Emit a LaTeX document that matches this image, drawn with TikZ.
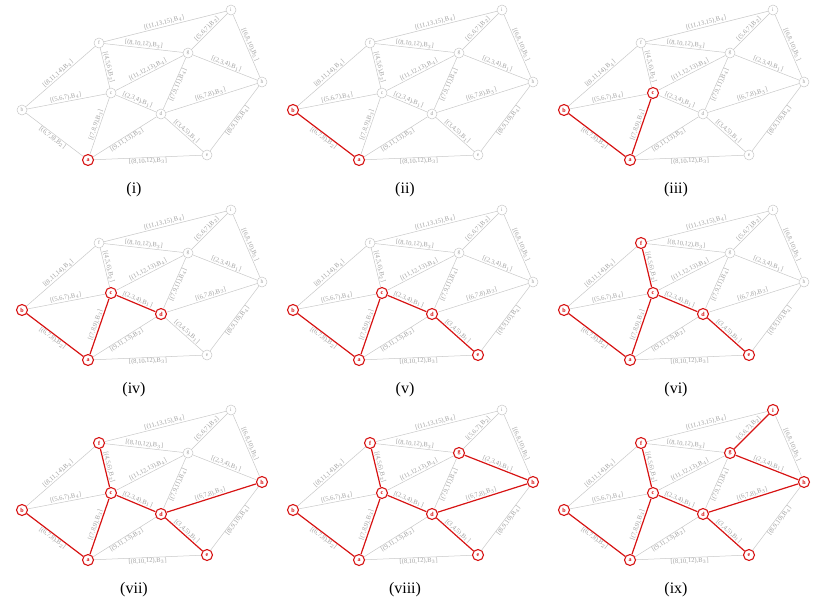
\documentclass[tikz,border=0pt]{standalone}
\usepackage{fontspec}
\setmainfont{Liberation Serif}
\usepackage{xcolor}
\definecolor{edgegrey}{RGB}{200,200,200}
\definecolor{labgrey}{RGB}{160,160,160}
\definecolor{hl}{RGB}{215,20,20}
\tikzset{
 gn/.style={circle,draw=edgegrey,line width=0.5pt,inner sep=0pt,minimum size=10pt,text=labgrey,font=\fontsize{5.5}{5.5}\selectfont,fill=white},
 rn/.style={circle,draw=hl,line width=1.1pt,inner sep=0pt,minimum size=11pt,text=hl,font=\fontsize{6}{6}\selectfont\bfseries,fill=white},
 ge/.style={draw=edgegrey,line width=0.5pt},
 re/.style={draw=hl,line width=1.2pt},
 lab/.style={text=labgrey,font=\fontsize{6.5}{7}\selectfont,inner sep=0.6pt,sloped},
 captext/.style={font=\fontsize{16}{16}\selectfont}
}
\newcommand\GN[4]{\ifnum#4>\stg\relax \node[gn] (#1\stg) at (#2,#3) {#1};\else \node[rn] (#1\stg) at (#2,#3) {#1};\fi}
\newcommand\GE[5]{\ifnum#5>\stg\relax \draw[ge] (#1\stg) -- node[lab,#4]{#3} (#2\stg);\else \draw[re] (#1\stg) -- node[lab,#4]{#3} (#2\stg);\fi}
\begin{document}
\begin{tikzpicture}[x=1pt,y=-1pt]
\useasboundingbox (0,0) rectangle (830,606);
\foreach \stg/\px/\py/\cp in {1/0/0/i,2/271/0/ii,3/542/0/iii,4/0/200/iv,5/271/200/v,6/542/200/vi,7/0/400/vii,8/271/400/viii,9/542/400/ix}{
\begin{scope}[shift={(\px,\py)}]
\GN{a}{88}{160}{1}
\GN{b}{22}{110}{2}
\GN{c}{111}{93}{3}
\GN{d}{161}{114}{4}
\GN{e}{207}{155}{5}
\GN{f}{99}{43}{6}
\GN{h}{262}{82}{7}
\GN{g}{188}{53}{8}
\GN{i}{231}{10}{9}
\GE{b}{a}{[(6,7,8),B$_2$]}{below}{2}
\GE{a}{c}{[(7,8,9),B$_3$]}{above}{3}
\GE{c}{d}{[(2,3,4),B$_1$]}{above}{4}
\GE{d}{e}{[(3,4,5),B$_1$]}{above}{5}
\GE{f}{c}{[(4,5,6),B$_2$]}{above}{6}
\GE{d}{h}{[(6,7,8),B$_3$]}{above}{7}
\GE{g}{h}{[(2,3,4),B$_1$]}{above}{8}
\GE{g}{i}{[(5,6,7),B$_2$]}{above}{9}
\GE{b}{f}{[(8,11,14),B$_4$]}{above}{99}
\GE{b}{c}{[(5,6,7),B$_4$]}{above}{99}
\GE{f}{i}{[(11,13,15),B$_4$]}{above}{99}
\GE{f}{g}{[(8,10,12),B$_3$]}{above}{99}
\GE{c}{g}{[(11,12,13),B$_4$]}{above}{99}
\GE{d}{g}{[(7,9,11),B$_4$]}{below}{99}
\GE{i}{h}{[(6,8,10),B$_5$]}{above}{99}
\GE{a}{d}{[(9,11,13),B$_2$]}{below}{99}
\GE{e}{h}{[(8,9,10),B$_4$]}{below}{99}
\GE{a}{e}{[(8,10,12),B$_3$]}{below}{99}
\node[captext] (cap\stg) at (134,190) {(\cp)};
\end{scope}
}
\end{tikzpicture}
\end{document}
